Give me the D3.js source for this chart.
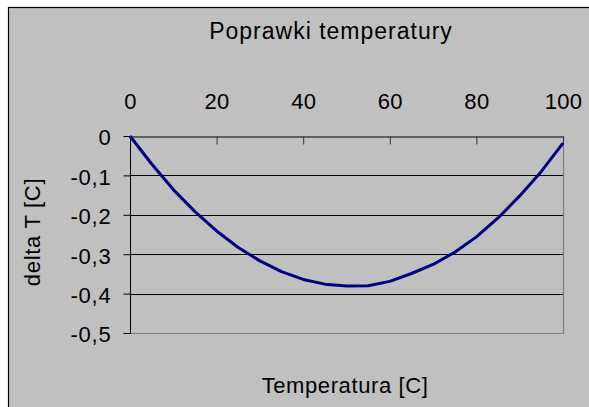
<!DOCTYPE html>
<html>
<head>
<meta charset="utf-8">
<script src="https://cdn.jsdelivr.net/npm/d3@7"></script>
<style>
  body { margin: 0; background: #fff; }
  text { font-family: "Liberation Sans", Arial, sans-serif; fill: #000; }
</style>
</head>
<body>
<svg id="chart"></svg>
<script>
// temperature [C] and correction delta T [C]
const temps = [0, 5, 10, 15, 20, 25, 30, 35, 40, 45, 50, 55, 60, 65, 70, 75, 80, 85, 90, 95, 100];
const deltas = [0, -0.071, -0.136, -0.192, -0.241, -0.283, -0.317, -0.344, -0.364, -0.376, -0.381,
  -0.380, -0.369, -0.349, -0.326, -0.295, -0.256, -0.208, -0.152, -0.090, -0.018];
const xTicks = [0, 20, 40, 60, 80, 100];
const yTicks = [0, -0.1, -0.2, -0.3, -0.4, -0.5];

const width = 589, height = 407;
const plot = { left: 130, top: 136, right: 563, bottom: 333 };

const svg = d3.select("#chart").attr("width", width).attr("height", height);

// chart area (cropped at right/bottom like the original)
svg.append("rect")
  .attr("x", 8.5).attr("y", 7.5)
  .attr("width", 620).attr("height", 420)
  .attr("fill", "#c0c0c0")
  .attr("stroke", "#000")
  .attr("stroke-width", 1.2);

const x = d3.scaleLinear().domain([0, 100]).range([plot.left, plot.right]);
const y = d3.scaleLinear().domain([-0.5, 0]).range([plot.bottom, plot.top]);

const fmt = d3.formatLocale({ decimal: ",", thousands: " ", grouping: [3], currency: ["", ""], minus: "-" })
  .format(".1f");

// gridlines
svg.append("g")
  .selectAll("line")
  .data(yTicks.filter(d => d !== 0 && d !== -0.5))
  .join("line")
  .attr("x1", plot.left).attr("x2", plot.right)
  .attr("y1", d => Math.round(y(d)) + 0.5).attr("y2", d => Math.round(y(d)) + 0.5)
  .attr("stroke", "#000");

// plot border right + bottom (grey)
svg.append("path")
  .attr("d", `M${plot.right + 0.5},${plot.top}V${plot.bottom + 0.5}H${plot.left}`)
  .attr("fill", "none")
  .attr("stroke", "#808080")
  .attr("stroke-width", 1.2);

// x axis on top, ticks pointing down
const xAxis = svg.append("g")
  .attr("transform", `translate(0,${plot.top + 0.5})`)
  .call(d3.axisTop(x).tickValues(xTicks).tickSizeInner(-8).tickSizeOuter(0).tickPadding(28).tickFormat(d3.format("d")));
xAxis.select(".domain").attr("stroke", "#000");
xAxis.selectAll(".tick line").attr("stroke", "#333");
xAxis.selectAll("text")
  .attr("font-size", 22).attr("letter-spacing", 0.3)
  .attr("font-family", "Liberation Sans, Arial, sans-serif");

// y axis
const yAxis = svg.append("g")
  .attr("transform", `translate(${plot.left + 0.5},0)`)
  .call(d3.axisLeft(y).tickValues(yTicks).tickSize(7).tickPadding(12).tickFormat(d => d === 0 ? "0" : fmt(d)));
yAxis.select(".domain").attr("stroke", "#000").attr("d", `M0,${plot.top}V${plot.bottom + 0.5}`);
yAxis.selectAll(".tick line").attr("stroke", "#000");
yAxis.selectAll("text")
  .attr("font-size", 22).attr("letter-spacing", 0.8).attr("dy", "0.4em")
  .attr("font-family", "Liberation Sans, Arial, sans-serif");

// curve
const line = d3.line()
  .x((d, i) => x(temps[i]))
  .y(d => y(d));

svg.append("path")
  .datum(deltas)
  .attr("d", line)
  .attr("fill", "none")
  .attr("stroke", "#000080")
  .attr("stroke-width", 3)
  .attr("stroke-linejoin", "round");

// titles
svg.append("text")
  .attr("x", 331).attr("y", 38.5)
  .attr("text-anchor", "middle")
  .attr("font-size", 23).attr("letter-spacing", 1)
  .text("Poprawki temperatury");

svg.append("text")
  .attr("x", 345).attr("y", 393)
  .attr("text-anchor", "middle")
  .attr("font-size", 22).attr("letter-spacing", 0.6)
  .text("Temperatura [C]");

svg.append("text")
  .attr("transform", `translate(40,232) rotate(-90)`)
  .attr("text-anchor", "middle")
  .attr("font-size", 22).attr("letter-spacing", 0.7)
  .text("delta T [C]");
</script>
</body>
</html>
